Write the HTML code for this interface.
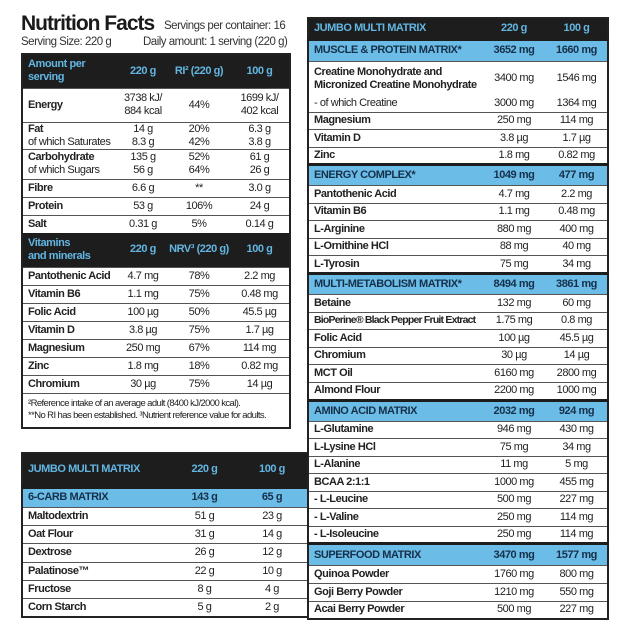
<!DOCTYPE html>
<html><head><meta charset="utf-8">
<style>
body{margin:0;width:628px;height:636px;background:#fff;position:relative;overflow:hidden;font-family:"Liberation Sans",sans-serif;color:#222;}
.t{position:absolute;border-collapse:collapse;table-layout:fixed;font-size:11px;letter-spacing:-0.45px;border:2px solid #222;}
.t td{padding:0 0 0 5px;border-top:1.5px solid #555;line-height:13px;white-space:nowrap;overflow:hidden}
.t td.c{text-align:center;padding:0}
.h td{background:#1d1d1d;color:#63b6e2;font-weight:bold;border-top:none}
.b td{background:#6bbce6;color:#16304a;font-weight:bold;border-top:3px solid #1d1d1d}
.n{font-weight:bold}
.title{position:absolute;left:21px;top:12px;font-weight:bold;font-size:21px;letter-spacing:-1px;color:#1a1a1a}
.sub{position:absolute;font-size:11.5px;letter-spacing:-0.5px;color:#333}
.fn td{font-size:9.5px;line-height:12px;letter-spacing:-0.6px}
</style></head><body>
<div class="title">Nutrition Facts</div>
<div class="sub" style="left:21px;top:36px">Serving Size: 220 g</div>
<div class="sub" style="left:164px;top:20px">Servings per container: 16</div>
<div class="sub" style="left:143px;top:36px">Daily amount: 1 serving (220 g)</div>

<table class="t" style="left:21px;top:53px;width:268px">
<colgroup><col style="width:96px"><col style="width:50px"><col style="width:62px"><col style="width:60px"></colgroup>
<tr class="h" style="height:34px"><td>Amount per<br>serving</td><td class="c">220 g</td><td class="c">RI² (220 g)</td><td class="c">100 g</td></tr>
<tr style="height:34px"><td class="n">Energy</td><td class="c">3738 kJ/<br>884 kcal</td><td class="c">44%</td><td class="c">1699 kJ/<br>402 kcal</td></tr>
<tr style="height:27px"><td><b>Fat</b><br>of which Saturates</td><td class="c">14 g<br>8.3 g</td><td class="c">20%<br>42%</td><td class="c">6.3 g<br>3.8 g</td></tr>
<tr style="height:30px"><td><b>Carbohydrate</b><br>of which Sugars</td><td class="c">135 g<br>56 g</td><td class="c">52%<br>64%</td><td class="c">61 g<br>26 g</td></tr>
<tr style="height:18px"><td class="n">Fibre</td><td class="c">6.6 g</td><td class="c">**</td><td class="c">3.0 g</td></tr>
<tr style="height:18px"><td class="n">Protein</td><td class="c">53 g</td><td class="c">106%</td><td class="c">24 g</td></tr>
<tr style="height:18px"><td class="n">Salt</td><td class="c">0.31 g</td><td class="c">5%</td><td class="c">0.14 g</td></tr>
<tr class="h" style="height:34px"><td>Vitamins<br>and minerals</td><td class="c">220 g</td><td class="c">NRV³ (220 g)</td><td class="c">100 g</td></tr>
<tr style="height:18px"><td class="n">Pantothenic Acid</td><td class="c">4.7 mg</td><td class="c">78%</td><td class="c">2.2 mg</td></tr>
<tr style="height:18px"><td class="n">Vitamin B6</td><td class="c">1.1 mg</td><td class="c">75%</td><td class="c">0.48 mg</td></tr>
<tr style="height:18px"><td class="n">Folic Acid</td><td class="c">100 µg</td><td class="c">50%</td><td class="c">45.5 µg</td></tr>
<tr style="height:18px"><td class="n">Vitamin D</td><td class="c">3.8 µg</td><td class="c">75%</td><td class="c">1.7 µg</td></tr>
<tr style="height:18px"><td class="n">Magnesium</td><td class="c">250 mg</td><td class="c">67%</td><td class="c">114 mg</td></tr>
<tr style="height:18px"><td class="n">Zinc</td><td class="c">1.8 mg</td><td class="c">18%</td><td class="c">0.82 mg</td></tr>
<tr style="height:18px"><td class="n">Chromium</td><td class="c">30 µg</td><td class="c">75%</td><td class="c">14 µg</td></tr>
<tr class="fn" style="height:35px"><td colspan="4">²Reference intake of an average adult (8400 kJ/2000 kcal).<br>**No RI has been established. ³Nutrient reference value for adults.</td></tr>
</table>

<table class="t" style="left:21px;top:452px;width:286px">
<colgroup><col style="width:150px"><col style="width:65px"><col style="width:71px"></colgroup>
<tr class="h" style="height:34px"><td>JUMBO MULTI MATRIX</td><td class="c">220 g</td><td class="c">100 g</td></tr>
<tr class="b" style="height:20px"><td>6-CARB MATRIX</td><td class="c">143 g</td><td class="c">65 g</td></tr>
<tr style="height:18px"><td class="n">Maltodextrin</td><td class="c">51 g</td><td class="c">23 g</td></tr>
<tr style="height:18px"><td class="n">Oat Flour</td><td class="c">31 g</td><td class="c">14 g</td></tr>
<tr style="height:19px"><td class="n">Dextrose</td><td class="c">26 g</td><td class="c">12 g</td></tr>
<tr style="height:18px"><td class="n">Palatinose™</td><td class="c">22 g</td><td class="c">10 g</td></tr>
<tr style="height:18px"><td class="n">Fructose</td><td class="c">8 g</td><td class="c">4 g</td></tr>
<tr style="height:19px"><td class="n">Corn Starch</td><td class="c">5 g</td><td class="c">2 g</td></tr>
</table>

<table class="t" style="left:307px;top:17px;width:300px">
<colgroup><col style="width:174px"><col style="width:64px"><col style="width:62px"></colgroup>
<tr class="h" style="height:21px"><td>JUMBO MULTI MATRIX</td><td class="c">220 g</td><td class="c">100 g</td></tr>
<tr class="b" style="height:22px"><td>MUSCLE &amp; PROTEIN MATRIX*</td><td class="c">3652 mg</td><td class="c">1660 mg</td></tr>
<tr style="height:35px"><td class="n">Creatine Monohydrate and<br>Micronized Creatine Monohydrate</td><td class="c">3400 mg</td><td class="c">1546 mg</td></tr>
<tr style="height:16px"><td style="border-top:none">- of which Creatine</td><td class="c" style="border-top:none">3000 mg</td><td class="c" style="border-top:none">1364 mg</td></tr>
<tr style="height:17.5px"><td class="n">Magnesium</td><td class="c">250 mg</td><td class="c">114 mg</td></tr>
<tr style="height:17.5px"><td class="n">Vitamin D</td><td class="c">3.8 µg</td><td class="c">1.7 µg</td></tr>
<tr style="height:17.5px"><td class="n">Zinc</td><td class="c">1.8 mg</td><td class="c">0.82 mg</td></tr>
<tr class="b" style="height:21px"><td>ENERGY COMPLEX*</td><td class="c">1049 mg</td><td class="c">477 mg</td></tr>
<tr style="height:17.5px"><td class="n">Pantothenic Acid</td><td class="c">4.7 mg</td><td class="c">2.2 mg</td></tr>
<tr style="height:17.5px"><td class="n">Vitamin B6</td><td class="c">1.1 mg</td><td class="c">0.48 mg</td></tr>
<tr style="height:17.5px"><td class="n">L-Arginine</td><td class="c">880 mg</td><td class="c">400 mg</td></tr>
<tr style="height:17.5px"><td class="n">L-Ornithine HCl</td><td class="c">88 mg</td><td class="c">40 mg</td></tr>
<tr style="height:18px"><td class="n">L-Tyrosin</td><td class="c">75 mg</td><td class="c">34 mg</td></tr>
<tr class="b" style="height:21px"><td>MULTI-METABOLISM MATRIX*</td><td class="c">8494 mg</td><td class="c">3861 mg</td></tr>
<tr style="height:17.5px"><td class="n">Betaine</td><td class="c">132 mg</td><td class="c">60 mg</td></tr>
<tr style="height:17.5px"><td class="n" style="letter-spacing:-0.8px;font-size:10.5px">BioPerine® Black Pepper Fruit Extract</td><td class="c">1.75 mg</td><td class="c">0.8 mg</td></tr>
<tr style="height:17.5px"><td class="n">Folic Acid</td><td class="c">100 µg</td><td class="c">45.5 µg</td></tr>
<tr style="height:17.5px"><td class="n">Chromium</td><td class="c">30 µg</td><td class="c">14 µg</td></tr>
<tr style="height:17.5px"><td class="n">MCT Oil</td><td class="c">6160 mg</td><td class="c">2800 mg</td></tr>
<tr style="height:18px"><td class="n">Almond Flour</td><td class="c">2200 mg</td><td class="c">1000 mg</td></tr>
<tr class="b" style="height:21px"><td>AMINO ACID MATRIX</td><td class="c">2032 mg</td><td class="c">924 mg</td></tr>
<tr style="height:17.5px"><td class="n">L-Glutamine</td><td class="c">946 mg</td><td class="c">430 mg</td></tr>
<tr style="height:17.5px"><td class="n">L-Lysine HCl</td><td class="c">75 mg</td><td class="c">34 mg</td></tr>
<tr style="height:17.5px"><td class="n">L-Alanine</td><td class="c">11 mg</td><td class="c">5 mg</td></tr>
<tr style="height:17.5px"><td class="n">BCAA 2:1:1</td><td class="c">1000 mg</td><td class="c">455 mg</td></tr>
<tr style="height:17.5px"><td class="n">- L-Leucine</td><td class="c">500 mg</td><td class="c">227 mg</td></tr>
<tr style="height:17.5px"><td class="n">- L-Valine</td><td class="c">250 mg</td><td class="c">114 mg</td></tr>
<tr style="height:17.5px"><td class="n">- L-Isoleucine</td><td class="c">250 mg</td><td class="c">114 mg</td></tr>
<tr class="b" style="height:22px"><td>SUPERFOOD MATRIX</td><td class="c">3470 mg</td><td class="c">1577 mg</td></tr>
<tr style="height:18px"><td class="n">Quinoa Powder</td><td class="c">1760 mg</td><td class="c">800 mg</td></tr>
<tr style="height:17.5px"><td class="n">Goji Berry Powder</td><td class="c">1210 mg</td><td class="c">550 mg</td></tr>
<tr style="height:17.5px"><td class="n">Acai Berry Powder</td><td class="c">500 mg</td><td class="c">227 mg</td></tr>
</table>
</body></html>
